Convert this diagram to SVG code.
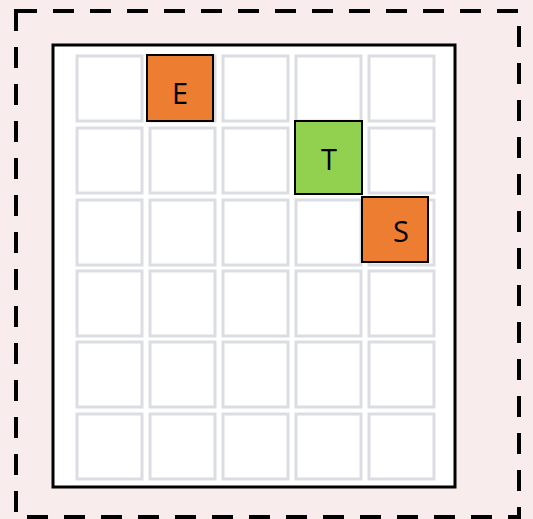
<svg xmlns="http://www.w3.org/2000/svg" width="533" height="519" viewBox="0 0 533 519">
<style>
.cell{fill:#ffffff;stroke:#dcdde2;stroke-width:3}
.box{stroke:#000;stroke-width:2}
.lbl{font-family:"Open Sans","Liberation Sans",sans-serif;font-size:29px;fill:#000;text-anchor:middle;dominant-baseline:central}
</style>
<rect x="0" y="0" width="533" height="519" fill="#f8ecec"/>
<rect id="frame" x="16" y="11" width="503" height="506" fill="none" stroke="#000" stroke-width="4" stroke-dasharray="21 16"/>
<g id="board">
<rect x="53" y="45" width="402" height="442" fill="#ffffff" stroke="#000" stroke-width="3"/>
<g id="grid">
<rect class="cell" x="77" y="56" width="65" height="65"/><rect class="cell" x="150" y="56" width="65" height="65"/><rect class="cell" x="223" y="56" width="65" height="65"/><rect class="cell" x="296" y="56" width="65" height="65"/><rect class="cell" x="369" y="56" width="65" height="65"/>
<rect class="cell" x="77" y="128" width="65" height="65"/><rect class="cell" x="150" y="128" width="65" height="65"/><rect class="cell" x="223" y="128" width="65" height="65"/><rect class="cell" x="296" y="128" width="65" height="65"/><rect class="cell" x="369" y="128" width="65" height="65"/>
<rect class="cell" x="77" y="200" width="65" height="65"/><rect class="cell" x="150" y="200" width="65" height="65"/><rect class="cell" x="223" y="200" width="65" height="65"/><rect class="cell" x="296" y="200" width="65" height="65"/><rect class="cell" x="369" y="200" width="65" height="65"/>
<rect class="cell" x="77" y="271" width="65" height="65"/><rect class="cell" x="150" y="271" width="65" height="65"/><rect class="cell" x="223" y="271" width="65" height="65"/><rect class="cell" x="296" y="271" width="65" height="65"/><rect class="cell" x="369" y="271" width="65" height="65"/>
<rect class="cell" x="77" y="342" width="65" height="65"/><rect class="cell" x="150" y="342" width="65" height="65"/><rect class="cell" x="223" y="342" width="65" height="65"/><rect class="cell" x="296" y="342" width="65" height="65"/><rect class="cell" x="369" y="342" width="65" height="65"/>
<rect class="cell" x="77" y="414" width="65" height="65"/><rect class="cell" x="150" y="414" width="65" height="65"/><rect class="cell" x="223" y="414" width="65" height="65"/><rect class="cell" x="296" y="414" width="65" height="65"/><rect class="cell" x="369" y="414" width="65" height="65"/>
</g>
</g>
<g id="E"><rect class="box" x="147" y="55" width="66" height="66" fill="#ed7d31"/><text class="lbl" x="180" y="92">E</text></g>
<g id="T"><rect class="box" x="295" y="121" width="67" height="73" fill="#92d050"/><text class="lbl" x="329" y="158">T</text></g>
<g id="S"><rect class="box" x="362" y="197" width="66" height="65" fill="#ed7d31"/><text class="lbl" x="401" y="230">S</text></g>
<g id="connectors"></g>
</svg>
